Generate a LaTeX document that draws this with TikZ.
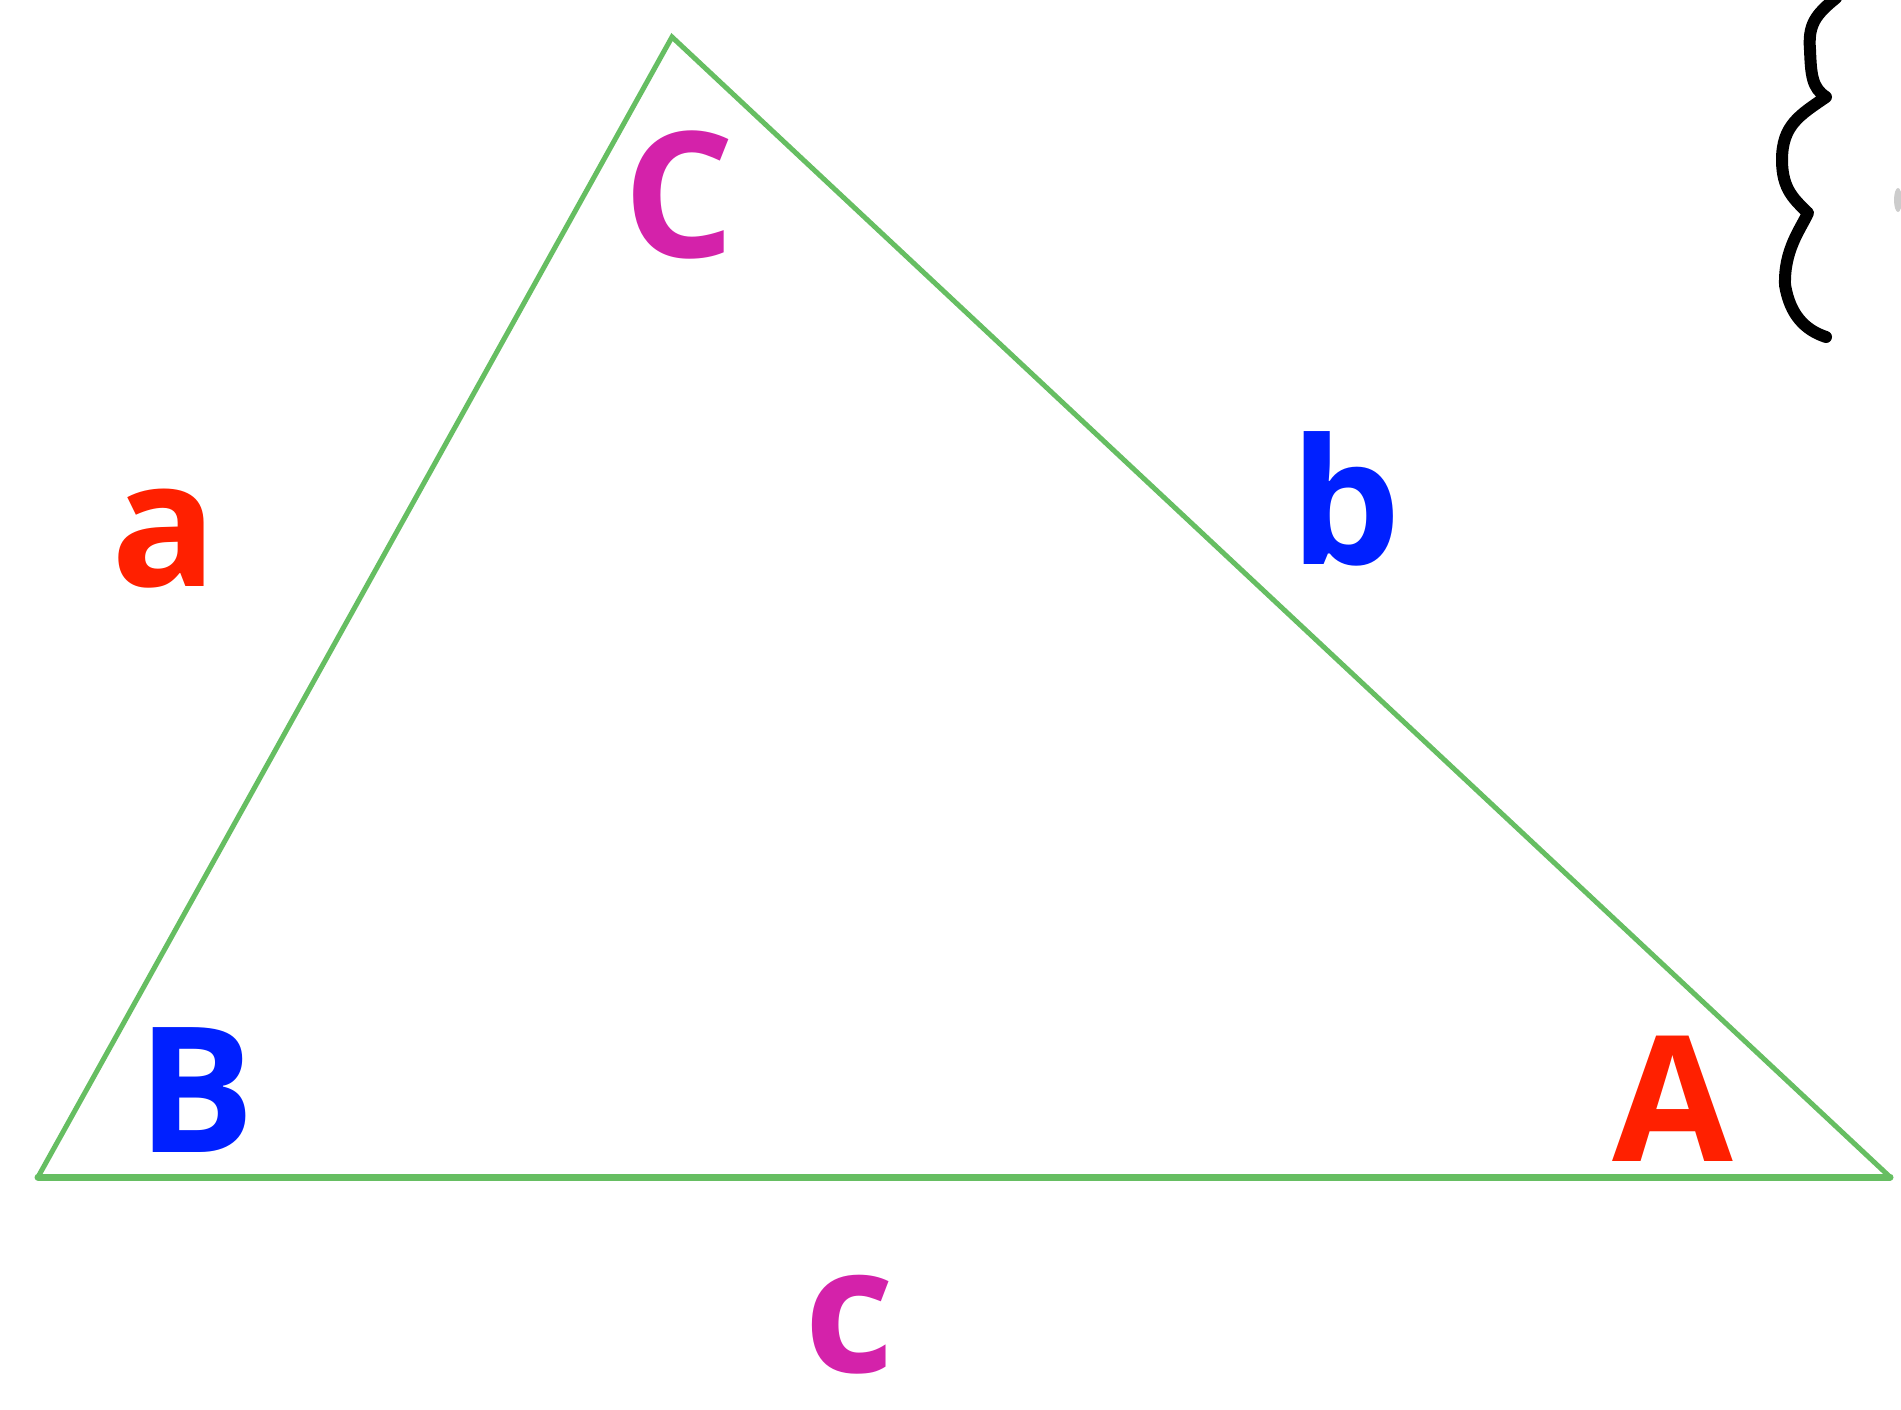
\documentclass[tikz,border=0pt]{standalone}
\usepackage{fontspec}
\setmainfont{Open Sans}
\definecolor{trigreen}{RGB}{102,190,98}
\definecolor{lblred}{RGB}{255,32,0}
\definecolor{lblblue}{RGB}{0,32,255}
\definecolor{lblmag}{RGB}{212,34,170}
\tikzset{
  side/.style={draw=trigreen,line width=5pt,line join=miter,line cap=round},
  lbl/.style={inner sep=0pt,anchor=base,font=\fontsize{175}{200}\selectfont\bfseries},
}
\begin{document}
\begin{tikzpicture}[x=1pt,y=-1pt]
\useasboundingbox[fill=white] (0,0) rectangle (1901,1410);
\coordinate (B) at (38,1177);
\coordinate (A) at (1890,1177);
\coordinate (C) at (672,37);
\draw[side] (B) -- (C) -- (A);
\draw[side,line width=7pt] (B) -- (A);
\node[lbl,text=lblmag] (lC) at (679,257) {C};
\node[lbl,text=lblred] (la) at (164,586) {a};
\node[lbl,text=lblblue] (lb) at (1346,564) {b};
\node[lbl,text=lblblue] (lB) at (196,1152) {B};
\node[lbl,text=lblred] (lA) at (1673,1161) {A};
\node[lbl,text=lblmag] (lc) at (849,1372) {c};
\draw[line width=12pt,line cap=round,line join=round]
  (1836,-2) .. controls (1815,15) and (1808,25) .. (1810,50)
  .. controls (1811,75) and (1812,88) .. (1826,97)
  .. controls (1800,115) and (1782,125) .. (1782,160)
  .. controls (1782,190) and (1795,200) .. (1808,213)
  .. controls (1800,230) and (1784,250) .. (1785,285)
  .. controls (1790,315) and (1805,330) .. (1826,337);
\fill[gray!40] (1898,200) ellipse (4 and 12);
\end{tikzpicture}
\end{document}
